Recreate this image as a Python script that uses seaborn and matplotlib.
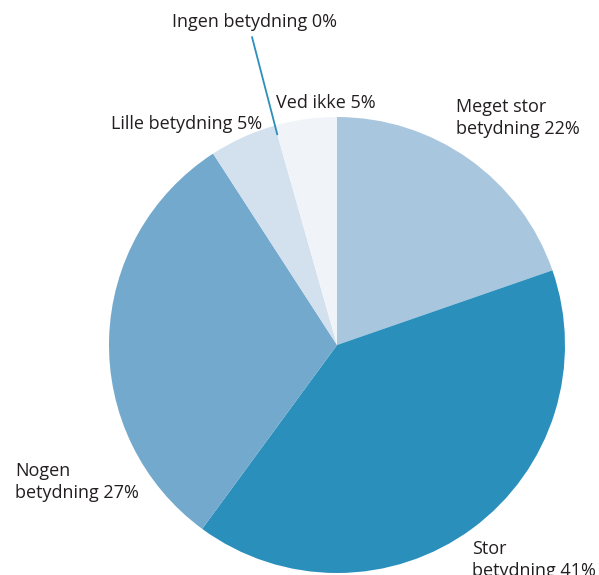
import numpy as np
import matplotlib
matplotlib.use("Agg")
from matplotlib import pyplot as plt
import seaborn as sns

# kategorier (med uret fra toppen) og andele aflaest fra figuren
categories = ["Meget stor betydning", "Stor betydning", "Nogen betydning",
              "Lille betydning", "Ingen betydning", "Ved ikke"]
shares = [19.7, 40.4, 30.8, 4.75, 0.0, 4.4]
labels = ["Meget stor\nbetydning 22%", "Stor\nbetydning 41%", "Nogen\nbetydning 27%",
          "Lille betydning 5%", "Ingen betydning 0%", "Ved ikke 5%"]
colors = ["#a9c6df", "#2b8fbc", "#73a9cd", "#d3e0ee", "#d3e0ee", "#f0f4f9"]

sns.set_theme(style="white")
plt.rcParams["font.family"] = ["Open Sans", "DejaVu Sans"]

W, H = 599, 575
fig = plt.figure(figsize=(W / 100, H / 100), dpi=100)
ax = fig.add_axes([0, 0, 1, 1])

cx, cy, r = 337, H - 345, 228
wedges, _ = ax.pie(shares, colors=sns.color_palette(colors), startangle=90,
                   counterclock=False, radius=r, center=(cx, cy), frame=True,
                   wedgeprops=dict(linewidth=0))
ax.set_xlim(0, W)
ax.set_ylim(0, H)
ax.set_aspect("equal")
ax.axis("off")

txt = dict(fontsize=13, color="#231f20", va="center")
# label positions in pixel coords (x, y from top)
pos = [(456, 118, "left"), (472, 560, "left"), (15, 482, "left"),
       (262, 124, "right"), (172, 22, "left"), (276, 103, "left")]
for lab, (x, y, ha) in zip(labels, pos):
    ax.text(x, H - y, lab, ha=ha, linespacing=1.25, **txt)

# ledelinje til "Ingen betydning 0%"
ang = np.deg2rad(wedges[4].theta1)
ex, ey = cx + 0.96 * r * np.cos(ang), cy + 0.96 * r * np.sin(ang)
ax.plot([252, ex], [H - 37, ey], color="#2b8fbc", lw=1.3)

fig.savefig("out.png", dpi=100)
